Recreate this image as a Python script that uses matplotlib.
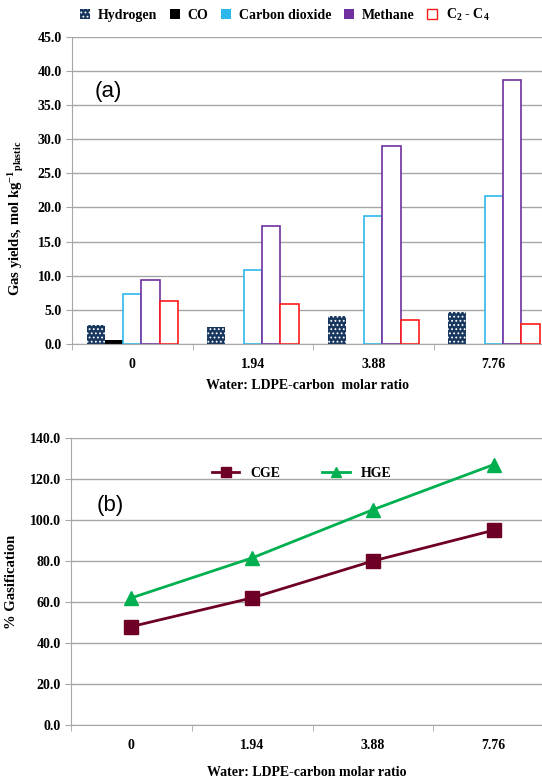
import matplotlib
matplotlib.use('Agg')
import matplotlib.pyplot as plt
import numpy as np
from matplotlib.patches import Patch

plt.rcParams['font.family'] = 'Liberation Serif'
plt.rcParams['font.weight'] = 'bold'
plt.rcParams['axes.labelweight'] = 'bold'
plt.rcParams['mathtext.fontset'] = 'custom'
plt.rcParams['mathtext.rm'] = 'Liberation Serif:bold'
plt.rcParams['mathtext.it'] = 'Liberation Serif:italic:bold'
plt.rcParams['mathtext.bf'] = 'Liberation Serif:bold'
plt.rcParams['hatch.linewidth'] = 0.8

# data
ratios = ['0', '1.94', '3.88', '7.76']
gases = ['Hydrogen', 'CO', 'Carbon dioxide', 'Methane', r'C$_2$ - C$_4$']
hydrogen = [2.8, 2.45, 4.15, 4.7]
co = [0.6, 0.0, 0.0, 0.0]
co2 = [7.25, 10.85, 18.7, 21.6]
methane = [9.3, 17.25, 29.0, 38.7]
c2c4 = [6.35, 5.9, 3.47, 2.9]
cge = [48.0, 62.0, 80.0, 95.0]
hge = [62.0, 81.5, 105.0, 127.0]

grid_col = '#A6A6A6'
navy = '#17375E'
blue = '#2DB8EC'
purple = '#7030A0'
red = '#FF1A1A'
maroon = '#6E0028'
green = '#00B050'

fig = plt.figure(figsize=(5.42, 7.80), dpi=100)

def style_axes(ax):
    ax.spines['top'].set_visible(False)
    ax.spines['right'].set_visible(False)
    ax.spines['left'].set_color(grid_col)
    ax.spines['bottom'].set_color(grid_col)
    ax.yaxis.grid(True, color=grid_col, linewidth=1.0)
    ax.set_axisbelow(True)
    x = np.arange(len(ratios))
    ax.set_xticks(x)
    ax.set_xticklabels(ratios)
    ax.set_xticks(np.arange(len(ratios) + 1) - 0.5, minor=True)
    ax.tick_params(axis='x', which='major', length=0, pad=10, labelsize=10)
    ax.tick_params(axis='x', which='minor', length=4, color=grid_col)
    ax.tick_params(axis='y', length=4, color=grid_col, labelsize=10)
    ax.set_xlim(-0.5, 3.40)

# ---- (a) bars
ax1 = fig.add_axes([0.133, 0.559, 0.867, 0.394])
x = np.arange(len(ratios))
w = 0.152
series = [hydrogen, co, co2, methane, c2c4]
for i, vals in enumerate(series):
    pos = x + (i - 2) * w
    if i == 0:
        ax1.bar(pos, vals, w, color=navy, edgecolor='white', linewidth=0, hatch='....')
    elif i == 1:
        ax1.bar(pos, vals, w, color='black', linewidth=0)
    else:
        ec = [blue, purple, red][i - 2]
        ax1.bar(pos, vals, w, facecolor='white', edgecolor=ec, linewidth=1.2)
ax1.set_ylim(0, 45)
ax1.set_yticks(np.arange(0, 46, 5))
ax1.set_yticklabels([f'{v:.1f}' for v in np.arange(0, 46, 5)])
style_axes(ax1)
ax1.set_xlabel('Water: LDPE-carbon  molar ratio', fontsize=10, labelpad=6)
ax1.set_ylabel(r'Gas yields, mol kg$^{-1}$$_{\rm plastic}$', fontsize=10.5)
ax1.yaxis.set_label_coords(-0.098, 0.41)
ax1.text(0.048, 0.82, '(a)', transform=ax1.transAxes, fontsize=16, va='center',
         family='Liberation Sans', fontweight='normal')

handles = [Patch(facecolor=navy, edgecolor='white', hatch='....', linewidth=0),
           Patch(facecolor='black'),
           Patch(facecolor=blue),
           Patch(facecolor=purple),
           Patch(facecolor='white', edgecolor=red, hatch='+')]
fig.legend(handles, gases, loc='center', bbox_to_anchor=(0.525, 0.981), ncol=5,
           frameon=False, fontsize=10, handlelength=0.7, handleheight=0.7,
           columnspacing=0.9, handletextpad=0.6)

# ---- (b) lines
ax2 = fig.add_axes([0.131, 0.0705, 0.869, 0.368])
ax2.plot(x, cge, color=maroon, marker='s', markersize=10, linewidth=2, label='CGE')
ax2.plot(x, hge, color=green, marker='^', markersize=10, linewidth=2, label='HGE')
ax2.set_ylim(0, 140)
ax2.set_yticks(np.arange(0, 141, 20))
ax2.set_yticklabels([f'{v:.1f}' for v in np.arange(0, 141, 20)])
style_axes(ax2)
ax2.set_xlabel('Water: LDPE-carbon molar ratio', fontsize=10, labelpad=10)
ax2.set_ylabel('% Gasification', fontsize=10.5, labelpad=8)
ax2.text(0.055, 0.765, '(b)', transform=ax2.transAxes, fontsize=16, va='center',
         family='Liberation Sans', fontweight='normal')
ax2.legend(loc='center', bbox_to_anchor=(0.49, 0.876), ncol=2, frameon=False,
           fontsize=10, handlelength=2.0, columnspacing=3.0, markerscale=0.7)

fig.savefig('out.png', dpi=100)
